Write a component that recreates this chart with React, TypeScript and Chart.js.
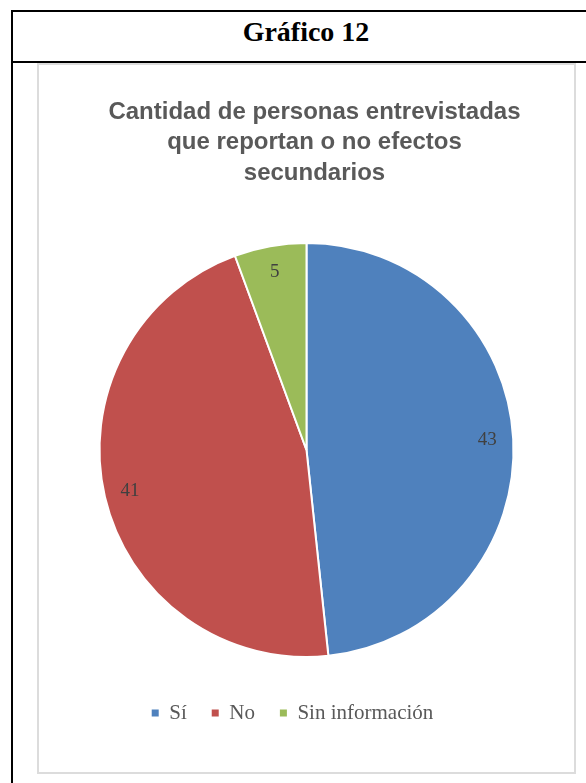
import React, { useEffect, useRef } from "react";
import { Chart, registerables } from "chart.js";

Chart.register(...registerables);

const header = "Gráfico 12";
const titleLines = ["Cantidad de personas entrevistadas", "que reportan o no efectos", "secundarios"];
const categories = ["Sí", "No", "Sin información"];
const values = [43, 41, 5];
const colors = ["#4F81BD", "#C0504D", "#9BBB59"];

const sliceLabels = {
  id: "sliceLabels",
  afterDatasetsDraw(chart: any) {
    const meta = chart.getDatasetMeta(0);
    const ctx = chart.ctx;
    ctx.save();
    ctx.font = "19px 'Liberation Serif', 'Times New Roman', serif";
    ctx.fillStyle = "#404040";
    ctx.textAlign = "center";
    ctx.textBaseline = "middle";
    meta.data.forEach((arc: any, i: number) => {
      const p = arc.getProps(["x", "y", "startAngle", "endAngle", "outerRadius"], true);
      const mid = (p.startAngle + p.endAngle) / 2;
      const r = p.outerRadius * 0.875;
      ctx.fillText(String(values[i]), p.x + Math.cos(mid) * r, p.y + Math.sin(mid) * r);
    });
    ctx.restore();
  },
};

const blockShift = {
  id: "blockShift",
  afterLayout(chart: any) {
    const l = chart.legend;
    if (l) {
      l.left -= 14;
      l.right -= 14;
    }
    const t = chart.titleBlock;
    if (t) {
      t.left += 8;
      t.right += 8;
    }
  },
};

export default function App() {
  const ref = useRef<HTMLCanvasElement | null>(null);

  useEffect(() => {
    if (!ref.current) return;
    const chart = new Chart(ref.current, {
      type: "pie",
      data: {
        labels: categories,
        datasets: [
          {
            data: values,
            backgroundColor: colors,
            borderColor: "#ffffff",
            borderWidth: 2,
          },
        ],
      },
      options: {
        animation: false,
        responsive: false,
        maintainAspectRatio: false,
        layout: { padding: { left: 59.5, right: 59.5, top: 0, bottom: 38.5 } },
        plugins: {
          tooltip: { enabled: false },
          title: {
            display: true,
            text: titleLines,
            color: "#595959",
            font: { family: "'Liberation Sans', Arial, sans-serif", size: 24, weight: "bold", lineHeight: 30.5 / 24 },
            padding: { top: 31.75, bottom: 34.25 },
          },
          legend: {
            display: true,
            position: "bottom",
            labels: {
              boxWidth: 7,
              boxHeight: 7,
              padding: 25,
              color: "#595959",
              font: { family: "'Liberation Serif', 'Times New Roman', serif", size: 21 },
              generateLabels: (c: any) =>
                (Chart as any).overrides.pie.plugins.legend.labels
                  .generateLabels(c)
                  .map((it: any) => ({ ...it, lineWidth: 0 })),
            },
          },
        },
      } as any,
      plugins: [sliceLabels, blockShift],
    });
    return () => chart.destroy();
  }, []);

  return (
    <div
      style={{
        position: "fixed",
        left: 0,
        top: 0,
        width: 586,
        height: 783,
        overflow: "hidden",
        background: "#ffffff",
      }}
    >
      <div style={{ position: "absolute", left: 11, top: 10, width: 620, height: 2, background: "#000" }} />
      <div style={{ position: "absolute", left: 11, top: 10, width: 2, height: 800, background: "#000" }} />
      <div style={{ position: "absolute", left: 11, top: 61, width: 620, height: 2, background: "#000" }} />
      <div
        style={{
          position: "absolute",
          left: 11,
          top: 18,
          width: 590,
          height: 28,
          lineHeight: "28px",
          textAlign: "center",
          fontFamily: "'Liberation Serif', 'Times New Roman', serif",
          fontWeight: "bold",
          fontSize: 28,
          color: "#000",
          whiteSpace: "nowrap",
        }}
      >
        {header}
      </div>
      <div
        style={{
          position: "absolute",
          left: 37,
          top: 63,
          width: 539,
          height: 711,
          boxSizing: "border-box",
          border: "2px solid #dcdcdc",
          background: "#fff",
        }}
      >
        <canvas ref={ref} width={535} height={707} style={{ display: "block", width: 535, height: 707 }} />
      </div>
    </div>
  );
}
